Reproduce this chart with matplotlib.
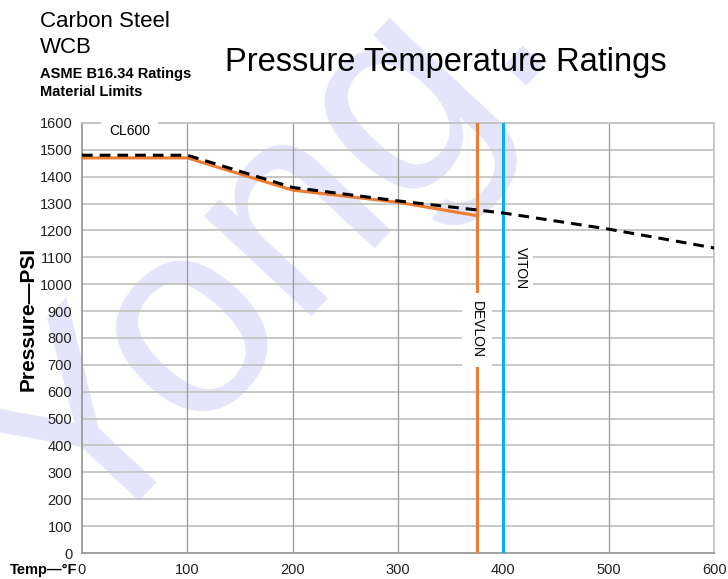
import matplotlib
matplotlib.use("Agg")
import matplotlib.pyplot as plt

plt.rcParams['font.family'] = ['Liberation Sans', 'DejaVu Sans']

# ASME B16.34 CL600 rating (dashed) and Devlon seat limit (orange)
asme_temp = [0, 100, 200, 300, 400, 500, 600]
asme_psi = [1480, 1480, 1360, 1310, 1265, 1205, 1135]
devlon_temp = [0, 100, 200, 300, 375]
devlon_psi = [1470, 1470, 1350, 1305, 1255]
devlon_limit = 375
viton_limit = 400

x_ticks = [0, 100, 200, 300, 400, 500, 600]
y_ticks = list(range(0, 1700, 100))

orange = '#ED7D31'
blue = '#00B0F0'

fig = plt.figure(figsize=(7.28, 5.79), dpi=100)
ax = fig.add_axes([0.1126, 0.0449, 0.8684, 0.7427])
ax.patch.set_alpha(0)

# watermark
fig.text(0.37, 0.57, 'Yong.', fontsize=200, color='#e4e4fa', rotation=47,
         ha='center', va='center', zorder=-10, clip_on=True)

ax.set_xlim(0, 600)
ax.set_ylim(0, 1600)
ax.set_xticks(x_ticks)
ax.set_yticks(y_ticks)
ax.tick_params(length=0, labelsize=10.5, pad=7, colors='#222222')
for y in y_ticks[1:]:
    ax.axhline(y, color='#c4c4c4', lw=1.3, zorder=1)
for x in x_ticks[1:]:
    ax.axvline(x, color='#9a9a9a', lw=0.9, zorder=1)
for s in ax.spines.values():
    s.set_color('#c4c4c4')
    s.set_linewidth(1.3)
ax.spines['left'].set_color('#9a9a9a')
ax.spines['bottom'].set_color('#9a9a9a')

ax.plot(devlon_temp, devlon_psi, color=orange, lw=2.2, zorder=3)
ax.plot(asme_temp, asme_psi, color='black', lw=2.2, dashes=(3.5, 2.3), zorder=4)
ax.axvline(devlon_limit, color=orange, lw=2.2, zorder=3)
ax.axvline(viton_limit, color=blue, lw=2.2, zorder=3)

ax.text(45, 1570, 'CL600', fontsize=10, ha='center', va='center', zorder=5,
        bbox=dict(facecolor='white', edgecolor='none', pad=6))
ax.text(devlon_limit, 830, 'DEVLON', fontsize=10, rotation=-90, ha='center', va='center',
        zorder=5, bbox=dict(facecolor='white', edgecolor='none', pad=6))
ax.text(417, 1062, 'VITON', fontsize=10, rotation=-90, ha='center', va='center',
        zorder=5, bbox=dict(facecolor='white', edgecolor='none', pad=3))

fig.text(0.038, 0.45, 'Pressure\u2014PSI', fontsize=15, fontweight='bold', rotation=90,
         ha='center', va='center')
fig.text(0.013, 0.016, 'Temp\u2014\u00b0F', fontsize=10.5, fontweight='bold',
         ha='left', va='center')

fig.text(0.055, 0.963, 'Carbon Steel', fontsize=16, ha='left', va='center')
fig.text(0.055, 0.918, 'WCB', fontsize=16, ha='left', va='center')
fig.text(0.055, 0.873, 'ASME B16.34 Ratings', fontsize=10.5, fontweight='bold',
         ha='left', va='center')
fig.text(0.055, 0.841, 'Material Limits', fontsize=10.5, fontweight='bold',
         ha='left', va='center')
fig.text(0.612, 0.892, 'Pressure Temperature Ratings', fontsize=23.5,
         ha='center', va='center')

fig.savefig('out.png', dpi=100)
